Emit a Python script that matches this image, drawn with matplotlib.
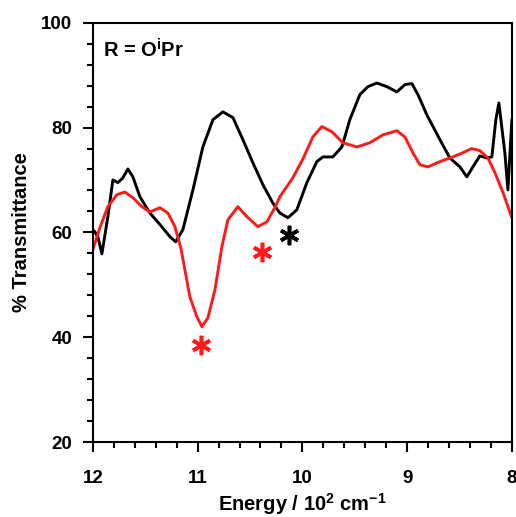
import numpy as np
import matplotlib
matplotlib.use("Agg")
import matplotlib.pyplot as plt
from matplotlib.ticker import MultipleLocator

plt.rcParams['font.family'] = ['Liberation Sans', 'DejaVu Sans']
plt.rcParams['font.weight'] = 'bold'
plt.rcParams['mathtext.default'] = 'bf'

# black spectrum (energy in 10^2 cm-1, % transmittance)
black_x = [12.000, 11.981, 11.950, 11.914, 11.857, 11.809, 11.761, 11.714, 11.666, 11.618,
           11.551, 11.456, 11.360, 11.265, 11.210, 11.141, 11.045, 10.950, 10.854, 10.759,
           10.663, 10.568, 10.473, 10.377, 10.282, 10.215, 10.138, 10.053, 9.957, 9.862,
           9.804, 9.709, 9.623, 9.547, 9.451, 9.375, 9.289, 9.193, 9.098, 9.021,
           8.955, 8.897, 8.811, 8.687, 8.592, 8.496, 8.430, 8.372, 8.306, 8.239,
           8.191, 8.153, 8.124, 8.067, 8.038, 8.000]
black_y = [60.5, 60.1, 59.0, 55.9, 63.0, 70.0, 69.5, 70.4, 72.1, 70.6,
           66.8, 63.7, 61.5, 59.2, 58.2, 60.5, 68.1, 76.3, 81.5, 83.0,
           81.9, 77.7, 73.3, 69.1, 65.6, 63.7, 62.8, 64.3, 69.5, 73.5,
           74.4, 74.4, 76.3, 81.5, 86.3, 87.8, 88.5, 87.8, 86.8, 88.2,
           88.4, 86.3, 82.4, 77.7, 74.2, 72.5, 70.6, 72.5, 74.6, 74.2,
           74.4, 81.5, 84.7, 75.2, 68.1, 81.5]

# red spectrum
red_x = [12.000, 11.933, 11.857, 11.770, 11.695, 11.618, 11.532, 11.456, 11.360, 11.284,
         11.217, 11.160, 11.130, 11.074, 11.007, 10.959, 10.902, 10.835, 10.768, 10.711,
         10.616, 10.530, 10.425, 10.339, 10.263, 10.215, 10.091, 9.995, 9.900, 9.814,
         9.718, 9.613, 9.480, 9.356, 9.232, 9.098, 9.021, 8.945, 8.878, 8.802,
         8.687, 8.563, 8.468, 8.382, 8.306, 8.229, 8.162, 8.086, 8.000]
red_y = [56.7, 60.9, 64.9, 67.2, 67.7, 66.6, 64.9, 63.9, 64.7, 63.7,
         61.1, 57.0, 53.8, 47.7, 43.9, 42.0, 43.7, 49.0, 57.3, 62.4,
         64.9, 63.0, 61.1, 62.0, 64.7, 66.8, 70.4, 74.0, 78.2, 80.2,
         79.2, 77.1, 76.3, 77.1, 78.6, 79.4, 78.2, 75.2, 72.9, 72.5,
         73.5, 74.4, 75.2, 76.0, 75.6, 74.2, 71.4, 67.7, 62.8]

# asterisk markers
red_star_x = [10.97, 10.39]
red_star_y = [38.5, 56.3]
black_star_x = [10.13]
black_star_y = [59.5]

fig = plt.figure(figsize=(5.16, 5.17), dpi=100)
ax = fig.add_axes([0.180, 0.145, 0.812, 0.811])

ax.plot(black_x, black_y, color='black', lw=2.1,
        solid_joinstyle='round', solid_capstyle='round')
ax.plot(red_x, red_y, color='#ff1a1a', lw=2.1,
        solid_joinstyle='round', solid_capstyle='round')

ax.plot(red_star_x, red_star_y, ls='none', marker=(6, 2, 0), ms=14, mew=2.6,
        color='#ff1a1a')
ax.plot(black_star_x, black_star_y, ls='none', marker=(6, 2, 0), ms=14, mew=2.6,
        color='black')

ax.text(11.905, 94.8, 'R = O$^{\\mathregular{i}}$Pr', fontsize=14.5,
        fontweight='bold', ha='left', va='center')

ax.set_xlim(12, 8)
ax.set_ylim(20, 100)
ax.xaxis.set_major_locator(MultipleLocator(1))
ax.xaxis.set_minor_locator(MultipleLocator(0.2))
ax.yaxis.set_major_locator(MultipleLocator(20))
ax.yaxis.set_minor_locator(MultipleLocator(4))
ax.tick_params(which='both', direction='out', width=1.5, top=False, right=False,
               labelsize=13.5)
ax.tick_params(which='major', length=7)
ax.tick_params(which='minor', length=4.5)
ax.tick_params(axis='x', which='major', pad=13)
ax.tick_params(axis='y', which='major', pad=8)
for lab in ax.get_xticklabels() + ax.get_yticklabels():
    lab.set_fontweight('bold')
for s in ax.spines.values():
    s.set_linewidth(1.5)

ax.set_xlabel('Energy / 10$^{\\mathregular{2}}$ cm$^{\\mathregular{-1}}$',
              fontsize=14.5, fontweight='bold', labelpad=3)
ax.set_ylabel('% Transmittance', fontsize=14.5, fontweight='bold', labelpad=7)

fig.savefig('out.png', dpi=100)
